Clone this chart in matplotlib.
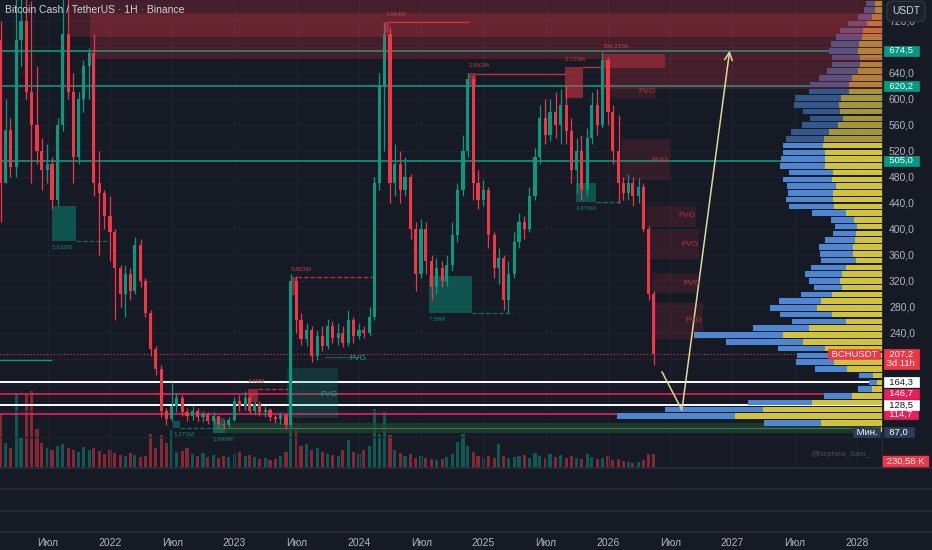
import pandas as pd
import matplotlib
matplotlib.use("Agg")
import matplotlib.pyplot as plt
from matplotlib.patches import Rectangle

plt.rcParams['font.family'] = ['Liberation Sans', 'DejaVu Sans']

# ---- candles (half-month bars) ----
start_date = '2021-02-15'
first_open = 690
closes = [470, 552, 495, 690, 720, 610, 560, 520, 490, 500, 445, 560, 700, 610, 510, 600,
          650, 670, 470, 455, 420, 395, 340, 300, 330, 305, 375, 320, 270, 215, 185, 120,
          108, 128, 140, 118, 112, 120, 110, 115, 104, 112, 100, 98, 106, 135, 128, 140,
          120, 130, 118, 122, 110, 108, 114, 98, 320, 260, 230, 245, 205, 235, 220, 250,
          232, 240, 225, 260, 235, 245, 240, 265, 470, 620, 700, 470, 500, 460, 480, 400,
          330, 400, 350, 310, 340, 320, 345, 390, 460, 520, 630, 470, 445, 460, 390, 340,
          355, 290, 330, 380, 410, 400, 450, 510, 570, 545, 580, 560, 590, 550, 490, 520,
          460, 540, 590, 560, 660, 580, 520, 470, 455, 470, 450, 465, 400, 300, 207.2]
highs = [720, 600, 570, 760, 760, 760, 750, 650, 540, 530, 510, 570, 760, 760, 640, 610,
         660, 678, 700, 520, 460, 450, 400, 345, 345, 340, 388, 385, 325, 275, 220, 190,
         125, 165, 148, 145, 125, 128, 124, 120, 118, 118, 114, 106, 110, 142, 145, 150,
         145, 135, 135, 128, 124, 114, 118, 116, 330, 328, 270, 255, 250, 245, 250, 262,
         258, 255, 250, 275, 265, 255, 250, 280, 480, 640, 718, 710, 530, 520, 510, 485,
         410, 415, 410, 360, 355, 350, 360, 410, 470, 545, 640, 637, 490, 475, 465, 395,
         370, 360, 350, 395, 425, 420, 465, 525, 590, 600, 600, 610, 615, 620, 570, 540,
         545, 555, 610, 615, 673, 665, 590, 575, 480, 485, 480, 478, 470, 405, 305]
lows = [410, 470, 480, 480, 650, 600, 470, 500, 460, 470, 430, 435, 550, 600, 470, 500,
        580, 600, 450, 360, 400, 350, 260, 280, 265, 290, 300, 310, 265, 205, 175, 110,
        98, 104, 118, 112, 104, 106, 104, 103, 100, 100, 96, 94, 95, 104, 120, 122,
        115, 114, 112, 110, 105, 102, 100, 92, 95, 240, 222, 220, 195, 198, 212, 215,
        225, 222, 218, 220, 225, 230, 232, 235, 260, 460, 520, 440, 450, 440, 450, 385,
        305, 325, 330, 290, 300, 310, 312, 335, 380, 450, 510, 445, 430, 435, 370, 325,
        315, 275, 270, 325, 370, 385, 395, 445, 500, 530, 535, 540, 530, 530, 470, 455,
        445, 450, 530, 545, 555, 560, 500, 440, 445, 445, 435, 440, 395, 290, 190]
volumes_k = [890, 410, 330, 1240, 500, 1200, 1270, 640, 410, 330, 300, 360, 400, 330, 300, 265,
             345, 300, 330, 280, 230, 300, 250, 215, 200, 250, 215, 180, 200, 560, 330, 545,
             410, 630, 265, 280, 330, 230, 200, 250, 180, 215, 165, 200, 180, 230, 265, 200,
             215, 180, 150, 165, 130, 150, 200, 265, 1450, 630, 360, 400, 300, 330, 265, 230,
             215, 200, 300, 460, 265, 230, 300, 360, 970, 560, 920, 545, 300, 250, 200, 230,
             165, 200, 165, 150, 130, 150, 180, 230, 430, 560, 360, 265, 200, 165, 200, 165,
             400, 200, 165, 180, 200, 215, 165, 250, 200, 165, 230, 180, 215, 165, 200, 165,
             150, 230, 180, 150, 165, 200, 130, 150, 115, 100, 80, 100, 130, 230, 230.58]

# ---- visible range volume profile (rows from the bottom), relative volumes ----
vp_low, vp_row = 86.0, 10.41
vp_value_area_top = 42
vp_yellow = [10, 61, 147, 119, 70, 30, 10, 5, 9, 35, 48, 47, 57, 79, 99, 73,
             36, 50, 65, 61, 50, 40, 42, 40, 36, 26, 29, 29, 27, 26, 25, 28,
             36, 48, 49, 49, 46, 50, 49, 57, 57, 57, 59, 58, 53, 44, 39, 42,
             43, 41, 33, 33, 30, 24, 22, 22, 24, 23, 20, 19, 15, 10, 7, 7]
vp_blue = [8, 57, 117, 98, 64, 28, 14, 8, 14, 32, 38, 38, 47, 77, 89, 56,
           54, 52, 47, 42, 31, 28, 31, 37, 35, 35, 33, 34, 30, 23, 22, 23,
           34, 45, 47, 45, 49, 49, 44, 45, 44, 42, 40, 38, 38, 36, 33, 37,
           45, 46, 40, 39, 33, 31, 28, 28, 29, 28, 26, 23, 19, 14, 11, 9]

# ---- horizontal levels ----
teal_levels = [674.5, 620.2, 505.0]
white_levels = [164.3, 128.5]
pink_levels = [146.7, 114.7]
min_price = 87.0

# ---- drawn zones ----
supply_zones = [(2021.663, 696.9, 752.3), (2021.839, 663.1, 732.3), (2025.960, 616.9, 663.1)]
red_blocks = [(2025.960, 2026.458, 647.7, 669.2, '706.215K', 0.35),
              (2025.655, 2025.799, 601.5, 649.2, '2.723M', 0.5),
              (2024.876, 2024.940, 621.5, 640.0, '1.852M', 0.5),
              (2024.209, 2024.241, 701.5, 718.5, '1.664M', 0.5),
              (2023.454, 2023.502, 298.5, 326.2, '5.893M', 0.5),
              (2023.108, 2023.189, 133.8, 153.8, '4.49M', 0.5)]
red_block_lines = [(2024.241, 2024.876, 718.5, '-'), (2024.940, 2025.655, 638.5, '-'),
                   (2025.799, 2025.960, 649.2, '-'), (2023.502, 2024.112, 326.2, '--'),
                   (2023.189, 2023.430, 153.8, '--')]
green_blocks = [(2021.534, 2021.727, 381.5, 435.4, '5.632M', 2021.976),
                (2024.562, 2024.908, 270.8, 327.7, '7.59M', 2025.229),
                (2025.743, 2025.904, 441.5, 470.8, '3.476M', 2026.096),
                (2022.506, 2022.562, 93.8, 104.6, '1.271M', 2022.827),
                (2022.827, 2022.924, 86.2, 109.2, '1.649M', 2022.924)]
bull_fvg = (2023.422, 2023.831, 109.2, 186.2)
bull_fvg_labels = [(2023.992, 200.0), (2023.759, 146.0)]
bear_fvgs = [(2025.992, 2026.386, 601.5, 618.5), (2026.112, 2026.498, 475.4, 538.5),
             (2026.313, 2026.707, 403.1, 435.4), (2026.337, 2026.731, 353.8, 398.5),
             (2026.353, 2026.723, 301.5, 332.3), (2026.378, 2026.763, 230.8, 286.2)]
bear_fvg_labels = [(2026.313, 610.8), (2026.418, 506.0), (2026.635, 420.0),
                   (2026.659, 376.9), (2026.675, 316.9), (2026.691, 258.5)]
low_band = (2022.827, 86.2, 101.5)
arrow_years = [2026.434, 2026.594, 2026.980]
arrow_prices = [180.0, 121.5, 678.5]

time_ticks = [2021.5, 2022, 2022.5, 2023, 2023.5, 2024, 2024.5, 2025, 2025.5,
              2026, 2026.5, 2027, 2027.5, 2028]
time_labels = ['Июл', '2022', 'Июл', '2023', 'Июл', '2024', 'Июл', '2025', 'Июл',
               '2026', 'Июл', '2027', 'Июл', '2028']
price_ticks = list(range(80, 760, 40))
covered_ticks = [80, 120, 160, 200, 680]   # hidden behind the price tags

BG = '#161a25'
GRID = '#1e2230'
SEP = '#2a2e39'
UP = '#089981'
DOWN = '#f23645'
PINK = '#e91e5a'
TXT = '#b2b5be'

W, H = 932, 550
X0, X1 = 2021.1165, 2028.2008
Y0, Y1 = 32.3, 752.3


def rect(x0, y0, x1, y1):
    return [x0 / W, 1 - y1 / H, (x1 - x0) / W, (y1 - y0) / H]


fig = plt.figure(figsize=(9.32, 5.5), dpi=100, facecolor=BG)

# volume pane (behind price)
axv = fig.add_axes(rect(0, 0, 882, 468))
axv.set_facecolor(BG)
ax = fig.add_axes(rect(0, 0, 882, 468))
ax.set_facecolor('none')

dates = pd.date_range(start_date, periods=len(closes), freq='SMS')
years = dates.year + (dates.dayofyear - 1) / 365.25
opens = [first_open] + closes[:-1]
bw = 0.025

vcolors = [UP if c >= o else DOWN for o, c in zip(opens, closes)]
axv.bar(years, volumes_k, width=bw, color=vcolors, alpha=0.5, linewidth=0)
axv.set_xlim(X0, X1)
axv.set_ylim(0, 7700)
axv.set_xticks(time_ticks)
axv.set_yticks([])
axv.tick_params(axis='x', length=0, labelbottom=False)
axv.grid(axis='x', color=GRID, lw=0.8)
for s in axv.spines.values():
    s.set_visible(False)

ax.set_xlim(X0, X1)
ax.set_ylim(Y0, Y1)
ax.set_xticks(time_ticks)
ax.tick_params(axis='x', length=0, labelbottom=False)
ax.yaxis.tick_right()
ax.set_yticks(price_ticks)
ax.set_yticklabels(['' if p in covered_ticks else f'{p},0' for p in price_ticks])
ax.tick_params(axis='y', length=0, pad=5, labelsize=7.5, labelcolor=TXT)
ax.grid(axis='y', color=GRID, lw=0.8, zorder=0)
for name, s in ax.spines.items():
    s.set_visible(name == 'right')
ax.spines['right'].set_color(SEP)

# levels
ax.axhline(closes[-1], color=DOWN, lw=0.8, ls=(0, (1, 2)), zorder=1.5)
for lv in teal_levels:
    ax.axhline(lv, color=UP, lw=1.2, zorder=2)
for lv in white_levels:
    ax.axhline(lv, color='white', lw=1.4, zorder=2)
for lv in pink_levels:
    ax.axhline(lv, color=PINK, lw=1.2, zorder=2)
ax.plot([X0, 2021.526], [198.5, 198.5], color=UP, lw=1, zorder=2)

# low band
ax.add_patch(Rectangle((low_band[0], low_band[1]), X1 - low_band[0], low_band[2] - low_band[1],
                       fc='#1d4a2c', alpha=0.7, lw=0, zorder=1.6))
ax.plot([low_band[0], X1], [93.8, 93.8], color='#56645f', lw=0.8, zorder=1.7)

# order blocks
for t0, t1, lo, hi, lab, a in red_blocks:
    ax.add_patch(Rectangle((t0, lo), t1 - t0, hi - lo, fc=DOWN, alpha=a, lw=0, zorder=2.5))
    ax.text(t0, hi + 8, lab, color='#c0404a', fontsize=4.5, ha='left', va='bottom', zorder=7)
for t0, t1, lv, ls in red_block_lines:
    ax.plot([t0, t1], [lv, lv], color=DOWN, lw=0.9, ls=ls, alpha=0.8, zorder=2.5)
for t0, t1, lo, hi, lab, tend in green_blocks:
    ax.add_patch(Rectangle((t0, lo), t1 - t0, hi - lo, fc=UP, alpha=0.45, lw=0, zorder=2.5))
    ax.plot([t1, tend], [lo, lo], color=UP, lw=0.9, ls='--', alpha=0.7, zorder=2.5)
    ax.text(t0, lo - 6, lab, color='#0e8a74', fontsize=4.5, ha='left', va='top', zorder=7)
ax.add_patch(Rectangle((bull_fvg[0], bull_fvg[2]), bull_fvg[1] - bull_fvg[0],
                       bull_fvg[3] - bull_fvg[2], fc=UP, alpha=0.22, lw=0, zorder=2.4))
ax.plot([2023.73, 2023.99], [203, 203], color=UP, lw=0.8, alpha=0.6, zorder=2.5)
for t, p in bull_fvg_labels:
    ax.text(t, p, 'FVG', color='#14a88a', fontsize=6, ha='center', va='center', zorder=7)
for t0, t1, lo, hi in bear_fvgs:
    ax.add_patch(Rectangle((t0, lo), t1 - t0, hi - lo, fc=DOWN, alpha=0.13, lw=0, zorder=2.4))
for t, p in bear_fvg_labels:
    ax.text(t, p, 'FVG', color='#b5353f', fontsize=6, ha='center', va='center', zorder=7)

# candles
ccolors = [UP if c >= o else DOWN for o, c in zip(opens, closes)]
ax.vlines(years, lows, highs, colors=ccolors, lw=0.9, zorder=3)
bottoms = [min(o, c) for o, c in zip(opens, closes)]
heights = [max(abs(c - o), 2) for o, c in zip(opens, closes)]
ax.bar(years, heights, bottom=bottoms, width=bw, color=ccolors, lw=0, zorder=3.1)

# volume profile, 30% of pane width
span = X1 - X0
vmax = max(y + b for y, b in zip(vp_yellow, vp_blue))
for k, (yv, bv) in enumerate(zip(vp_yellow, vp_blue)):
    c = vp_low + vp_row * (k + 0.5)
    yw = yv / vmax * 0.30 * span
    bwid = bv / vmax * 0.30 * span
    bright = k <= vp_value_area_top
    cy = '#d2c33c' if bright else '#a39538'
    cb = '#4f86d2' if bright else '#35588c'
    ax.barh(c, yw, left=X1 - yw, height=vp_row * 0.82, color=cy, lw=0, zorder=4)
    ax.barh(c, bwid, left=X1 - yw - bwid, height=vp_row * 0.82, color=cb, lw=0, zorder=4)

# supply zones above the profile
for t0, lo, hi in supply_zones:
    ax.add_patch(Rectangle((t0, lo), X1 - t0, hi - lo, fc=DOWN, alpha=0.21,
                           ec='#a02c38', lw=0.6, zorder=5))

# arrow
ARROW = '#dcd89a'
ax.plot(arrow_years[:2], arrow_prices[:2], color=ARROW, lw=1.1, zorder=6)
ax.annotate('', xy=(arrow_years[2], arrow_prices[2]), xytext=(arrow_years[1], arrow_prices[1]),
            arrowprops=dict(arrowstyle='->', color=ARROW, lw=1.1, mutation_scale=14), zorder=6)

# texts
ax.text(0.006, 1 - 10 / 468, 'Bitcoin Cash / TetherUS · 1H · Binance', transform=ax.transAxes,
        fontsize=7.5, color='#d1d4dc', ha='left', va='center', zorder=20)
ax.text(840 / 882, 1 - 455 / 468, '@Nephew_Sam_', transform=ax.transAxes,
        fontsize=5.5, color='#4a4e5a', ha='center', va='center', zorder=20)

ytr = ax.get_yaxis_transform()


def tag(price, text, fc, tc='white', dx=1.5, dy=0, ha='left', va='center', z=30):
    ax.annotate(text, xy=(1, price), xycoords=ytr, xytext=(dx, dy), textcoords='offset points',
                ha=ha, va=va, fontsize=6.8, color=tc, annotation_clip=False, zorder=z,
                linespacing=1.1,
                bbox=dict(boxstyle='square,pad=0.05', fc=fc, ec=fc, lw=0.5))


def fmt(v):
    return f'  {v:.1f}  '.replace('.', ',')


for lv in teal_levels:
    tag(lv, fmt(lv), UP)
tag(closes[-1], fmt(closes[-1]) + '\n 3d 11h ', DOWN, dy=3.5, va='top')
tag(closes[-1], ' BCHUSDT ', DOWN, dx=-1.5, ha='right')
for lv in pink_levels:
    tag(lv, fmt(lv), PINK, z=30)
for lv in white_levels:
    tag(lv, fmt(lv), 'white', tc='#131722', z=31)
tag(min_price, fmt(min_price), '#2b3d58')
tag(min_price, ' Мин. ', '#2b3d58', dx=-1.5, ha='right')
ax.annotate(f' {volumes_k[-1]:.2f} K '.replace('.', ','), xy=(1, 0), xycoords='axes fraction',
            xytext=(1.5, 1.5), textcoords='offset points', ha='left', va='bottom', fontsize=6.8,
            color='white', annotation_clip=False, zorder=30,
            bbox=dict(boxstyle='square,pad=0.1', fc=DOWN, ec=DOWN))
fig.text(906 / W, 1 - 11.5 / H, 'USDT', fontsize=7.5, color='#d1d4dc', ha='center', va='center',
         bbox=dict(boxstyle='round,pad=0.5', fc='#1e222d', ec='#363a45', lw=0.8))

# empty lower panes + time scale
axp = fig.add_axes(rect(0, 468, 932, 532))
axp.set_facecolor(BG)
axp.set_xlim(X0, X0 + 932 / 124.5)
axp.set_ylim(0, 3)
axp.axhline(1, color=SEP, lw=1.2)
axp.axhline(2, color=SEP, lw=1.2)
axp.set_yticks([])
axp.set_xticks(time_ticks)
axp.set_xticklabels(time_labels)
axp.tick_params(axis='x', length=0, pad=4, labelsize=7.5, labelcolor=TXT)
for name, s in axp.spines.items():
    s.set_visible(name in ('top', 'bottom'))
    s.set_color(SEP)
    s.set_linewidth(1.2)

fig.savefig('out.png', dpi=100, facecolor=BG)
